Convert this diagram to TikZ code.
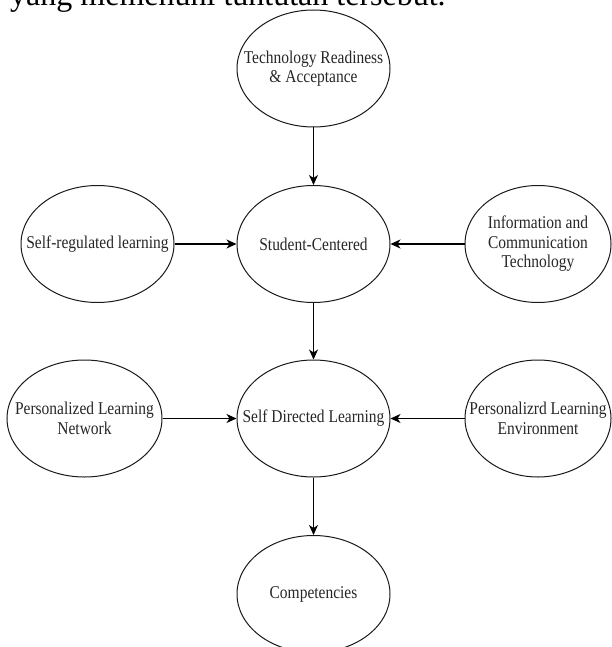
\documentclass[tikz,border=0pt]{standalone}
\usepackage{fontspec}
\setmainfont{Liberation Serif}
\newfontfamily\nodefont[FakeStretch=0.86]{Liberation Serif}
\usetikzlibrary{shapes.geometric,arrows.meta}
\begin{document}
\begin{tikzpicture}[x=1pt,y=-1pt,
  oval/.style={ellipse, draw=black!90, line width=1pt, minimum width=153pt, minimum height=117pt, inner sep=0pt},
  lbl/.style={align=center, font=\nodefont\fontsize{18}{19.5}\selectfont, text=black!85, inner sep=0pt},
  arr/.style={-{Stealth[length=10pt,width=9pt,inset=3pt]}, line width=1.2pt, black}]
\useasboundingbox (0,0) rectangle (611,647);
\node[anchor=base west, font=\fontsize{32}{38}\selectfont, inner sep=0pt] (intro) at (10,6) {yang memenuhi tuntutan tersebut.};
\node[oval, label={[lbl,name=traT]center:{Technology Readiness\\\& Acceptance}}] (tra) at (313.5,68.5) {};
\node[oval, label={[lbl,name=scT]center:{Student-Centered}}] (sc) at (313.5,244) {};
\node[oval, label={[lbl,name=srlT]center:{Self-regulated learning}}] (srl) at (97.5,244) {};
\node[oval, minimum width=146pt, label={[lbl,name=ictT]center:{Information and\\Communication\\Technology}}] (ict) at (538,244) {};
\node[oval, label={[lbl,name=sdlT]center:{Self Directed Learning}}] (sdl) at (313.5,418.5) {};
\node[oval, minimum width=155pt, label={[lbl,name=plnT]center:{Personalized Learning\\Network}}] (pln) at (84.5,418.5) {};
\node[oval, minimum width=146pt, label={[lbl,name=pleT]center:{Personalizrd Learning\\Environment}}] (ple) at (538,418.5) {};
\node[oval, label={[lbl,name=compT]center:{Competencies}}] (comp) at (313.5,594) {};
\draw[arr] (tra) -- (sc);
\draw[arr] (srl) -- (sc);
\draw[arr] (ict) -- (sc);
\draw[arr] (sc) -- (sdl);
\draw[arr] (pln) -- (sdl);
\draw[arr] (ple) -- (sdl);
\draw[arr] (sdl) -- (comp);
\end{tikzpicture}
\end{document}
